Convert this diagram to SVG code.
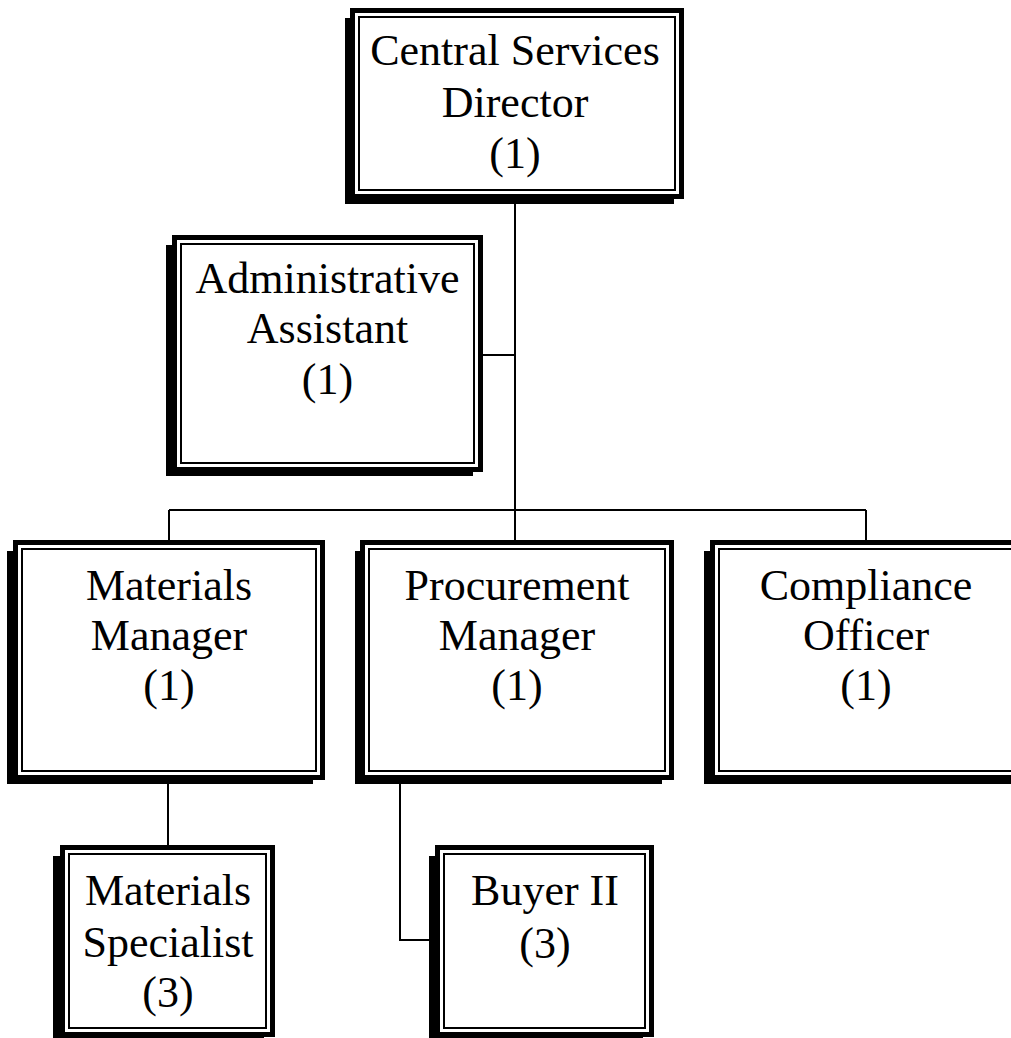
<svg xmlns="http://www.w3.org/2000/svg" width="1011" height="1038" viewBox="0 0 1011 1038">
  <style>
    .shadow { fill: #000; }
    .frame { fill: #fff; stroke: #000; stroke-width: 5; }
    .inner { fill: none; stroke: #000; stroke-width: 2; }
    .label { font-family: "Liberation Serif", "Times New Roman", serif; font-size: 44px; fill: #000; text-anchor: middle; }
    .link { fill: none; stroke: #000; stroke-width: 2; }
  </style>
  <rect width="1011" height="1038" fill="#fff"/>

  <!-- connectors -->
  <g id="connectors" class="link">
    <path d="M515 199 V510"/>
    <path d="M483 355 H515"/>
    <path d="M169 510 H866"/>
    <path d="M169 510 V540"/>
    <path d="M515 510 V540"/>
    <path d="M866 510 V540"/>
    <path d="M168 780 V845"/>
    <path d="M400 780 V940 H435"/>
  </g>

  <!-- Central Services Director -->
  <g id="central-services-director">
    <rect class="shadow" x="345" y="18" width="329" height="186"/>
    <rect class="frame" x="352.5" y="10.5" width="329" height="186"/>
    <rect class="inner" x="359" y="17" width="316" height="173"/>
    <text class="label" x="515" y="65">Central Services</text>
    <text class="label" x="515" y="117">Director</text>
    <text class="label" x="515" y="168">(1)</text>
  </g>

  <!-- Administrative Assistant -->
  <g id="administrative-assistant">
    <rect class="shadow" x="166" y="245" width="307" height="231"/>
    <rect class="frame" x="174.5" y="237.5" width="306" height="232"/>
    <rect class="inner" x="181" y="244" width="293" height="219"/>
    <text class="label" x="327.5" y="293">Administrative</text>
    <text class="label" x="327.5" y="343">Assistant</text>
    <text class="label" x="327.5" y="394">(1)</text>
  </g>

  <!-- Materials Manager -->
  <g id="materials-manager">
    <rect class="shadow" x="7" y="551" width="306" height="233"/>
    <rect class="frame" x="15.5" y="542.5" width="307" height="235"/>
    <rect class="inner" x="22" y="549" width="294" height="222"/>
    <text class="label" x="169" y="600">Materials</text>
    <text class="label" x="169" y="650">Manager</text>
    <text class="label" x="169" y="700">(1)</text>
  </g>

  <!-- Procurement Manager -->
  <g id="procurement-manager">
    <rect class="shadow" x="355" y="551" width="307" height="233"/>
    <rect class="frame" x="362.5" y="542.5" width="309" height="235"/>
    <rect class="inner" x="369" y="549" width="296" height="222"/>
    <text class="label" x="517" y="600">Procurement</text>
    <text class="label" x="517" y="650">Manager</text>
    <text class="label" x="517" y="700">(1)</text>
  </g>

  <!-- Compliance Officer -->
  <g id="compliance-officer">
    <rect class="shadow" x="704" y="551" width="307" height="233"/>
    <rect class="frame" x="712.5" y="542.5" width="307" height="235"/>
    <rect class="inner" x="719" y="549" width="294" height="222"/>
    <text class="label" x="866" y="600">Compliance</text>
    <text class="label" x="866" y="650">Officer</text>
    <text class="label" x="866" y="700">(1)</text>
  </g>

  <!-- Materials Specialist -->
  <g id="materials-specialist">
    <rect class="shadow" x="53" y="856" width="211" height="186"/>
    <rect class="frame" x="62.5" y="847.5" width="210" height="187"/>
    <rect class="inner" x="69" y="854" width="197" height="174"/>
    <text class="label" x="168" y="905">Materials</text>
    <text class="label" x="168" y="957">Specialist</text>
    <text class="label" x="168" y="1007">(3)</text>
  </g>

  <!-- Buyer II -->
  <g id="buyer-ii">
    <rect class="shadow" x="429" y="856" width="214" height="186"/>
    <rect class="frame" x="437.5" y="847.5" width="214" height="187"/>
    <rect class="inner" x="444" y="854" width="201" height="174"/>
    <text class="label" x="545" y="905">Buyer II</text>
    <text class="label" x="545" y="958">(3)</text>
  </g>
</svg>
